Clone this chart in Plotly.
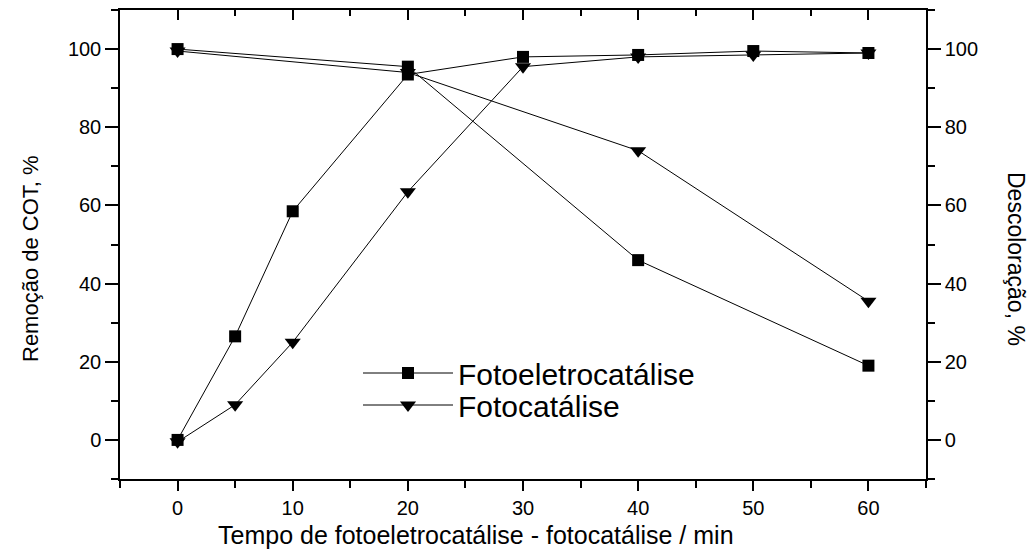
import plotly.graph_objects as go

# Data
time_min = [0, 5, 10, 20, 30, 40, 50, 60]
foto_eletro_rise = [0, 26.5, 58.5, 93.5, 98, 98.5, 99.5, 99]
foto_rise = [-0.5, 9, 25, 63.5, 95.5, 98, 98.5, 99]

time_fall = [0, 20, 40, 60]
foto_eletro_fall = [100, 95.5, 46, 19]
foto_fall = [99.5, 94, 74, 35.5]

x_ticks = [0, 10, 20, 30, 40, 50, 60]
y_ticks = [0, 20, 40, 60, 80, 100]

FONT = "Liberation Sans, Arial, sans-serif"
sq = dict(symbol="square", size=12, color="black")
tri = dict(symbol="triangle-down", size=14, color="black")
ln = dict(color="black", width=1)

fig = go.Figure()
fig.add_trace(go.Scatter(x=time_fall, y=foto_eletro_fall, mode="lines+markers",
                         marker=sq, line=ln, name="Fotoeletrocatálise",
                         legendgroup="fe", showlegend=True, legend="legend"))
fig.add_trace(go.Scatter(x=time_fall, y=foto_fall, mode="lines+markers",
                         marker=tri, line=ln, name="Fotocatálise",
                         legendgroup="f", showlegend=True, legend="legend2"))
fig.add_trace(go.Scatter(x=time_min, y=foto_eletro_rise, mode="lines+markers",
                         marker=sq, line=ln, name="Fotoeletrocatálise",
                         legendgroup="fe", showlegend=False, yaxis="y2"))
fig.add_trace(go.Scatter(x=time_min, y=foto_rise, mode="lines+markers",
                         marker=tri, line=ln, name="Fotocatálise",
                         legendgroup="f", showlegend=False, yaxis="y2"))
# empty trace to create top (mirror) axis
fig.add_trace(go.Scatter(x=[], y=[], xaxis="x2", showlegend=False, hoverinfo="skip"))

axis_common = dict(showgrid=False, zeroline=False, showline=True, linecolor="black",
                   linewidth=1.5, ticks="outside", tickcolor="black", tickwidth=1.5,
                   tickfont=dict(family=FONT, size=20, color="black"))

PL, PR, PT, PB = 120, 926, 10, 479
W = PR - PL
H = PB - PT

def px_x(p):
    return (p - PL) / W

def px_y(p):
    return (PB - p) / H

leg_common = dict(xanchor="left", yanchor="middle", bgcolor="rgba(0,0,0,0)",
                  font=dict(family=FONT, size=30, color="black"), itemwidth=90)

fig.update_layout(
    width=1035, height=553,
    margin=dict(l=PL, r=1035 - PR, t=PT, b=553 - PB),
    plot_bgcolor="white", paper_bgcolor="white",
    font=dict(family=FONT, color="black"),
    xaxis=dict(range=[-5, 65], tickvals=x_ticks, ticklen=10,
               minor=dict(dtick=5, tick0=0, ticklen=7, ticks="outside", tickcolor="black", tickwidth=1.5),
               **axis_common),
    xaxis2=dict(range=[-5, 65], overlaying="x", side="top", anchor="y",
                showgrid=False, zeroline=False, showline=True, linecolor="black", linewidth=1.5,
                ticks="inside", tickvals=x_ticks, ticklen=10, tickcolor="black", tickwidth=1.5,
                showticklabels=False,
                minor=dict(dtick=5, tick0=0, ticklen=6, ticks="inside", tickcolor="black", tickwidth=1.5)),
    yaxis=dict(range=[-10, 110], tickvals=y_ticks, ticklen=13,
               minor=dict(dtick=10, tick0=0, ticklen=7, ticks="outside", tickcolor="black", tickwidth=1.5),
               **axis_common),
    yaxis2=dict(range=[-10, 110], tickvals=y_ticks, ticklen=13, overlaying="y", side="right",
                minor=dict(dtick=10, tick0=0, ticklen=7, ticks="outside", tickcolor="black", tickwidth=1.5),
                **axis_common),
    legend=dict(x=px_x(358), y=px_y(373), **leg_common),
    legend2=dict(x=px_x(358), y=px_y(405), **leg_common),
    annotations=[
        dict(text="Tempo de fotoeletrocatálise - fotocatálise / min", xref="paper", yref="paper",
             x=px_x(476), y=px_y(535), xanchor="center", yanchor="middle", showarrow=False,
             font=dict(family=FONT, size=25, color="black")),
        dict(text="Remoção de COT, %", xref="paper", yref="paper",
             x=px_x(30), y=px_y(259), xanchor="center", yanchor="middle",
             textangle=-90, showarrow=False, font=dict(family=FONT, size=22, color="black")),
        dict(text="Descoloração, %", xref="paper", yref="paper",
             x=px_x(1016), y=px_y(259), xanchor="center", yanchor="middle",
             textangle=90, showarrow=False, font=dict(family=FONT, size=23, color="black")),
    ],
)

fig.write_html("out.html")
